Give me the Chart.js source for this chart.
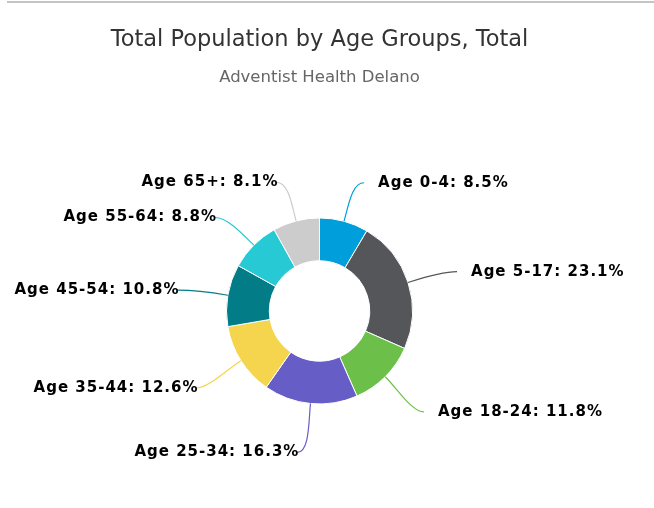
<!DOCTYPE html>
<html>
<head>
<meta charset="utf-8">
<script src="https://cdn.jsdelivr.net/npm/chart.js@4/dist/chart.umd.min.js"></script>
<style>
  html, body { margin: 0; padding: 0; background: #fff; }
  #wrap { position: relative; width: 654px; height: 508px; }
  #topline { position: absolute; left: 7px; top: 1px; right: 0; height: 2px; background: #c4c4c4; }
  #chart { position: absolute; left: 0; top: 0; }
</style>
</head>
<body>
<div id="wrap">
  <div id="topline"></div>
  <canvas id="chart" width="654" height="508"></canvas>
</div>
<script>
var categories = ['Age 0-4', 'Age 5-17', 'Age 18-24', 'Age 25-34', 'Age 35-44', 'Age 45-54', 'Age 55-64', 'Age 65+'];
var shares = [8.5, 23.1, 11.8, 16.3, 12.6, 10.8, 8.8, 8.1];
var sliceColors = ['#009fdb', '#55565a', '#6cc04a', '#675dc6', '#f4d54d', '#027c87', '#27c9d4', '#cccccc'];

var labelFont = 'bold 15px "DejaVu Sans"';

// highcharts-like labels with soft connectors
var sliceLabels = {
    id: 'sliceLabels',
    afterDatasetsDraw: function(chart) {
        var ctx = chart.ctx;
        var meta = chart.getDatasetMeta(0);
        ctx.save();
        ctx.font = labelFont;
        ctx.letterSpacing = '1px';
        ctx.textBaseline = 'middle';
        meta.data.forEach(function(arc, i) {
            var p = arc.getProps(['x', 'y', 'startAngle', 'endAngle', 'outerRadius'], true);
            var mid = (p.startAngle + p.endAngle) / 2;
            var c = Math.cos(mid), s = Math.sin(mid);
            var right = c >= 0;
            var R = p.outerRadius;
            var sx = p.x + c * R, sy = p.y + s * R;
            var lx = p.x + c * (R + 42) + (right ? 9 : -9);
            var ly = p.y + s * (R + 42) + 2 + Math.max(0, s) * 5;
            ctx.beginPath();
            ctx.moveTo(sx, sy);
            ctx.bezierCurveTo(p.x + c * (R + 18), p.y + s * (R + 18), lx + (right ? -12 : 12), ly, lx, ly);
            ctx.strokeStyle = sliceColors[i];
            ctx.lineWidth = 1.2;
            ctx.stroke();
            ctx.fillStyle = '#000';
            var txt = categories[i] + ': ' + shares[i].toFixed(1) + '%';
            if (right) {
                ctx.textAlign = 'left';
                ctx.fillText(txt, lx + 14, ly);
            } else {
                ctx.textAlign = 'right';
                ctx.fillText(txt, lx + 2, ly);
            }
        });
        ctx.restore();
    }
};

var ctx = document.getElementById('chart').getContext('2d');
var popChart = new Chart(ctx, {
    type: 'doughnut',
    data: {
        labels: categories,
        datasets: [{
            data: shares,
            backgroundColor: sliceColors,
            borderColor: '#ffffff',
            borderWidth: 1
        }]
    },
    options: {
        responsive: false,
        animation: false,
        radius: 93,
        cutout: '54%',
        layout: {
            padding: { left: 0, right: 15, top: 0, bottom: 0 }
        },
        plugins: {
            legend: { display: false },
            tooltip: { enabled: false },
            title: {
                display: true,
                text: 'Total Population by Age Groups, Total',
                color: '#333333',
                font: { family: '"DejaVu Sans"', size: 22.5, weight: 'normal', lineHeight: 1.1 },
                padding: { top: 28, bottom: 0 }
            },
            subtitle: {
                display: true,
                text: 'Adventist Health Delano',
                color: '#666666',
                font: { family: '"DejaVu Sans"', size: 16.5, weight: 'normal', lineHeight: 1.1 },
                padding: { top: 16, bottom: 27 }
            }
        }
    },
    plugins: [sliceLabels]
});
</script>
</body>
</html>
